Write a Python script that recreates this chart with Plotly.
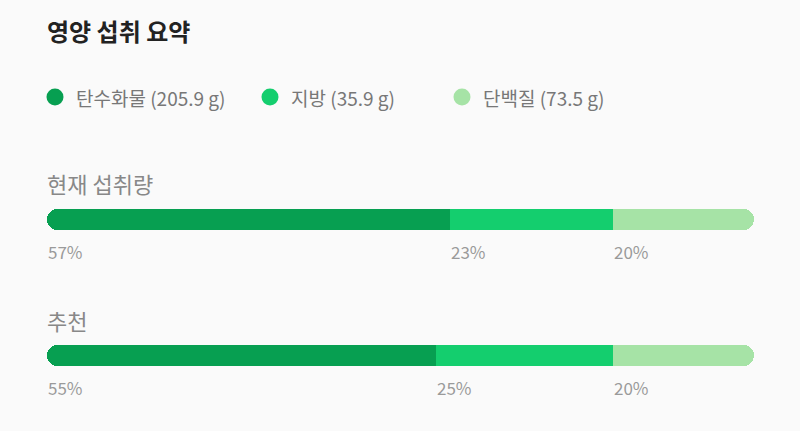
import plotly.graph_objects as go

# ---- data ----
title = "영양 섭취 요약"
nutrients = ["탄수화물", "지방", "단백질"]
grams = [205.9, 35.9, 73.5]
rows = ["현재 섭취량", "추천"]
current_pct = [57, 23, 20]
recommended_pct = [55, 25, 20]
row_values = [current_pct, recommended_pct]

# ---- style / layout ----
colors = ["#079F51", "#14CE6E", "#A6E3A6"]
W, H = 800, 431
X0_PX, X1_PX = 47, 754
SCALE = (X1_PX - X0_PX) / 100.0
FONT = "Noto Sans CJK KR"
bar_centers = [219.5, 355.5]
row_label_y = [183, 320]
pct_label_y = [251, 387]
BAR_H = 21

fig = go.Figure()
layout_axes = {}

for r, vals in enumerate(row_values):
    axis_suffix = "" if r == 0 else str(r + 1)
    xref = "x" + axis_suffix
    shift = vals[0]  # zero of this row's axis at carb/fat boundary
    yc = bar_centers[r]
    starts = [sum(vals[:i]) for i in range(len(vals))]
    for i, v in enumerate(vals):
        signed = -v if i == 0 else v
        fig.add_trace(go.Bar(
            x=[signed], y=[yc], orientation="h", xaxis=xref, yaxis="y",
            width=BAR_H, marker=dict(color=colors[i], line=dict(width=0)),
            showlegend=False, hoverinfo="skip"))
        fig.add_annotation(x=starts[i] - shift, y=pct_label_y[r], xref=xref, yref="y",
                           text=f"{v}%", showarrow=False, xanchor="left", yanchor="middle",
                           xshift=-1,
                           font=dict(family=FONT, size=17, color="#9A9A9A"))
    fig.add_annotation(x=-shift, y=row_label_y[r], xref=xref, yref="y",
                       text=rows[r], showarrow=False, xanchor="left", yanchor="middle",
                       xshift=-2,
                       font=dict(family=FONT, size=22, color="#888888"))
    rng = [-shift - X0_PX / SCALE, (100 - shift) + (W - X1_PX) / SCALE]
    ax = dict(range=rng, visible=False, fixedrange=True)
    if r > 0:
        ax.update(overlaying="x")
    layout_axes["xaxis" + axis_suffix] = ax

def ppx(px):
    return px / W

# title
fig.add_annotation(x=ppx(X0_PX - 2), y=30, xref="paper", yref="y", text=f"<b>{title}</b>",
                   showarrow=False, xanchor="left", yanchor="middle",
                   font=dict(family=FONT, size=24, color="#222222"))

# legend
legend_dot_px = [55, 270, 462]
legend_y = 97
fig.add_trace(go.Scatter(
    x=[ppx(p) for p in legend_dot_px], y=[legend_y] * 3, mode="markers",
    xaxis="x3", yaxis="y",
    marker=dict(size=17, color=colors, line=dict(width=0)),
    showlegend=False, hoverinfo="skip"))
for i, name in enumerate(nutrients):
    fig.add_annotation(x=ppx(legend_dot_px[i] + 19), y=legend_y, xref="paper", yref="y",
                       text=f"{name} ({grams[i]} g)", showarrow=False,
                       xanchor="left", yanchor="middle",
                       font=dict(family=FONT, size=19, color="#777777"))

layout_axes["xaxis3"] = dict(range=[0, 1], visible=False, fixedrange=True, overlaying="x")

fig.update_layout(
    width=W, height=H, margin=dict(l=0, r=0, t=0, b=0),
    paper_bgcolor="#FAFAFA", plot_bgcolor="#FAFAFA",
    barmode="relative", bargap=0, barcornerradius=11,
    yaxis=dict(range=[H, 0], visible=False, fixedrange=True),
    **layout_axes,
)

fig.write_html("out.html", config={"displayModeBar": False})
